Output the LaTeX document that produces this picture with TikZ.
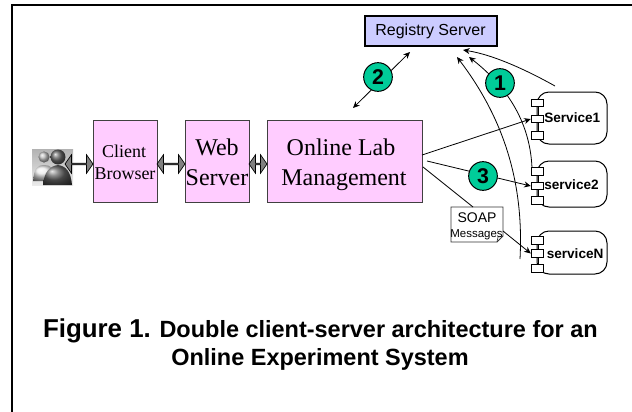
\documentclass[tikz,border=0pt]{standalone}
\usepackage{fontspec}
\setmainfont{Liberation Serif}
\setsansfont{Liberation Sans}
\usetikzlibrary{arrows.meta,shapes.arrows}
\definecolor{boxpink}{HTML}{FFCCFF}
\definecolor{regblue}{HTML}{CCCCFF}
\definecolor{teal}{HTML}{00CC99}
\tikzset{
  x=0.75pt,y=-0.75pt,
  pinkbox/.style={draw=black!75,line width=0.75pt,fill=boxpink,inner sep=0pt},
  regbox/.style={draw=black,line width=1.5pt,fill=regblue,inner sep=0pt},
  numcirc/.style={circle,draw=black,line width=0.75pt,fill=teal,minimum size=21.5pt,inner sep=0pt,font=\sffamily\bfseries\fontsize{16}{16}\selectfont},
  block/.style={shape=double arrow,draw=black,line width=0.5pt,fill=black!50,inner sep=0pt,double arrow head extend=2.6pt,minimum width=14pt,double arrow tip angle=110,double arrow head indent=0pt},
  flow/.style={line width=0.6pt,-{Stealth[length=5pt,width=4.5pt]}},
  flowtwo/.style={line width=0.6pt,{Stealth[length=5pt,width=4.5pt]}-{Stealth[length=5pt,width=4.5pt]}},
  svc/.style={draw=black,line width=0.75pt,fill=white,rounded corners=9pt},
  part/.style={draw=black,line width=0.6pt,fill=white,inner sep=0pt,minimum width=9.5pt,minimum height=5.5pt},
  svclabel/.style={font=\sffamily\bfseries\fontsize{10.2}{12}\selectfont,inner sep=0pt,anchor=base west},
  serif/.style={inner sep=0pt,anchor=base},
}
\begin{document}
\begin{tikzpicture}
\useasboundingbox (0,0) rectangle (632,411);
% frame
\draw[line width=1.5pt,line cap=rect] (12,411) -- (12,5) -- (632,5);
% registry
\node[regbox,minimum width=99pt,minimum height=22.5pt,font=\sffamily\fontsize{12}{14}\selectfont] (reg) at (430.5,31) {Registry Server};
% free ends
\coordinate (r2a) at (410,52);
\coordinate (r2b) at (353,108);
\coordinate (ra) at (463,50);
\coordinate (rb) at (469,57);
\coordinate (rc) at (457,57);
\coordinate (sa) at (555,86);
\coordinate (sb) at (532,168);
\coordinate (sc) at (520,259);
% pink boxes
\node[pinkbox,minimum width=48pt,minimum height=61.5pt] (cb) at (125,161) {};
\node[pinkbox,minimum width=48pt,minimum height=61.5pt] (ws) at (217,161) {};
\node[pinkbox,minimum width=116.25pt,minimum height=61.5pt] (lab) at (344.5,161) {};
\node[serif,font=\rmfamily\fontsize{13.5}{14}\selectfont] at (124,157) {Client};
\node[serif,font=\rmfamily\fontsize{13.5}{14}\selectfont] at (125,179) {Browser};
\node[serif,font=\rmfamily\fontsize{18}{20}\selectfont] at (217,155) {Web};
\node[serif,font=\rmfamily\fontsize{18}{20}\selectfont] at (217,185) {Server};
\node[serif,font=\rmfamily\fontsize{18}{20}\selectfont] at (341,155) {Online Lab};
\node[serif,font=\rmfamily\fontsize{18}{20}\selectfont] at (344,185) {Management};
% users icon
\shade[top color=black!30,bottom color=black!8] (32,149) rectangle (73,185);
\shade[ball color=black!8] (33,181) .. controls (34,168) and (38,165) .. (44,165) .. controls (50,165) and (56,168) .. (58,181) -- cycle;
\shade[ball color=black!25] (44,157) circle (5.6);
\shade[ball color=black!60] (43,185) .. controls (44,172) and (50,166) .. (58,165) .. controls (66,166) and (71,172) .. (72,185) -- cycle;
\shade[ball color=black!60] (58,157) circle (7.5);
% block arrows
\node[block,minimum height=21pt] (b1) at (79,164) {};
\node[block,minimum height=21pt] (b2) at (171,164) {};
\node[block,minimum height=13.5pt] (b3) at (258,164) {};
% services
\draw[svc] (537,92) rectangle (607,144);
\draw[svc] (537,161) rectangle (607,207);
\draw[svc] (537,231) rectangle (607,274);
\draw[line width=0.75pt] (538,103) -- (538,136);
\draw[line width=0.75pt] (538,171) -- (538,200);
\draw[line width=0.75pt] (538,240) -- (538,268);
\node[part] (s1a) at (537.5,103) {};
\node[part] (s1b) at (537.5,119) {};
\node[part] (s1c) at (537.5,135.5) {};
\node[part] (s2a) at (537.5,171.5) {};
\node[part] (s2b) at (537.5,186) {};
\node[part] (s2c) at (537.5,200.5) {};
\node[part] (s3a) at (537.5,240.5) {};
\node[part] (s3b) at (537.5,253.5) {};
\node[part] (s3c) at (537.5,268.5) {};
\node[svclabel] at (544,122) {Service1};
\node[svclabel] at (544,189) {service2};
\node[svclabel] at (546.5,258) {serviceN};
% SOAP note
\draw[line width=0.6pt,fill=white,draw=black!80] (451,207) -- (503,207) -- (503,236) -- (497,242) -- (451,242) -- cycle;
\draw[line width=0.5pt,draw=black!80] (503,236) -- (498,237) -- (497,242);
\coordinate (noteT) at (473,207);
\coordinate (noteR) at (503,231);
\node[serif,font=\sffamily\fontsize{10.5}{12}\selectfont] at (477,222) {SOAP};
\node[serif,font=\sffamily\fontsize{8.6}{10}\selectfont] at (476.5,237) {Messages};
% connectors
\coordinate (l1) at (422,155);
\coordinate (l2) at (427,161);
\coordinate (l3) at (423,167);
\draw[flow] (l1) -- (s1b.west);
\draw[flow] (l2) -- (s2b.west);
\draw[line width=0.6pt] (l3) -- (noteT);
\draw[flow] (noteR) -- (s3b.west);
\draw[flowtwo] (r2b) -- (r2a);
\draw[flow] (sa) .. controls (530,72) and (495,55) .. (ra);
\draw[flow] (sb) .. controls (530,120) and (505,85) .. (rb);
\draw[flow] (sc) .. controls (524,185) and (505,120) .. (rc);
% numbers
\node[numcirc] (n2) at (378,77) {2};
\node[numcirc] (n1) at (500,83) {1};
\node[numcirc] (n3) at (483,176) {3};
% caption
\node[inner sep=0pt,anchor=base east,font=\sffamily\bfseries\fontsize{17.6}{20}\selectfont] (cap1) at (598,337) {{\fontsize{19.4}{20}\selectfont Figure 1.} Double client-server architecture for an};
\node[inner sep=0pt,anchor=base,font=\sffamily\bfseries\fontsize{17.6}{20}\selectfont] (cap2) at (320,365.5) {Online Experiment System};
\end{tikzpicture}
\end{document}
